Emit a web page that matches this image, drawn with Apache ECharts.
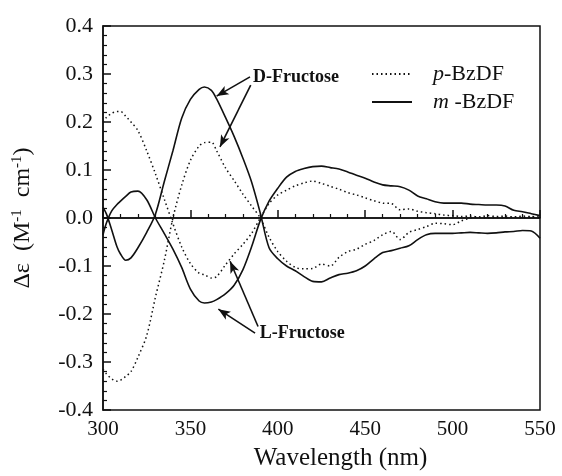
<!DOCTYPE html>
<html>
<head>
<meta charset="utf-8">
<script src="https://cdn.jsdelivr.net/npm/echarts@6/dist/echarts.min.js"></script>
<style>
  html, body { margin: 0; padding: 0; background: #fff; }
  #chart { width: 562px; height: 476px; }
</style>
</head>
<body>
<div id="chart"></div>
<script>
// Wavelength grid (nm) shared by all four CD spectra
const wavelengths = [300, 302, 305, 308, 310, 313, 316, 320, 325, 330, 335, 340, 345, 350, 355, 358, 362, 365, 370, 375,
  380, 385, 390, 395, 400, 405, 410, 415, 420, 425, 430, 435, 440, 445, 450, 455, 460, 465, 470, 475,
  480, 485, 490, 495, 500, 505, 510, 515, 520, 525, 530, 535, 540, 545, 550];

// m-BzDF with D-fructose (solid, positive band near 358 nm)
const mD = [0.022, 0.008, -0.025, -0.060, -0.075, -0.088, -0.083, -0.062, -0.030, 0.008, 0.075, 0.140, 0.208, 0.247, 0.268, 0.273, 0.266, 0.248, 0.210, 0.170,
  0.125, 0.075, 0.010, -0.062, -0.085, -0.100, -0.110, -0.122, -0.132, -0.133, -0.125, -0.118, -0.115, -0.110, -0.100, -0.085, -0.072, -0.068, -0.063, -0.058,
  -0.045, -0.035, -0.032, -0.032, -0.032, -0.031, -0.030, -0.031, -0.032, -0.031, -0.029, -0.028, -0.026, -0.027, -0.042];

// m-BzDF with L-fructose (solid, mirror image)
const mL = [-0.035, -0.010, 0.015, 0.028, 0.035, 0.045, 0.054, 0.056, 0.038, 0.000, -0.032, -0.065, -0.103, -0.148, -0.173, -0.177, -0.175, -0.170, -0.158, -0.140,
  -0.108, -0.060, -0.005, 0.035, 0.062, 0.085, 0.097, 0.103, 0.107, 0.108, 0.105, 0.102, 0.096, 0.089, 0.083, 0.075, 0.069, 0.067, 0.065, 0.058,
  0.046, 0.040, 0.034, 0.031, 0.031, 0.031, 0.029, 0.028, 0.027, 0.027, 0.025, 0.016, 0.013, 0.009, 0.005];

// p-BzDF with D-fructose (dotted)
const pD = [-0.315, -0.325, -0.335, -0.340, -0.338, -0.330, -0.320, -0.290, -0.245, -0.165, -0.090, 0.000, 0.068, 0.120, 0.150, 0.157, 0.158, 0.140, 0.105, 0.078,
  0.050, 0.025, 0.000, -0.040, -0.070, -0.090, -0.103, -0.106, -0.105, -0.096, -0.100, -0.082, -0.070, -0.065, -0.055, -0.047, -0.035, -0.028, -0.045, -0.030,
  -0.024, -0.018, -0.011, -0.012, -0.014, -0.006, 0.000, 0.002, 0.000, 0.001, 0.000, 0.002, 0.001, 0.002, 0.000];

// p-BzDF with L-fructose (dotted)
const pL = [0.200, 0.210, 0.218, 0.222, 0.222, 0.212, 0.200, 0.182, 0.140, 0.092, 0.040, -0.012, -0.060, -0.095, -0.115, -0.118, -0.125, -0.122, -0.098, -0.075,
  -0.055, -0.032, 0.000, 0.030, 0.048, 0.058, 0.067, 0.073, 0.077, 0.072, 0.066, 0.060, 0.053, 0.048, 0.042, 0.036, 0.031, 0.030, 0.017, 0.019,
  0.014, 0.011, 0.009, 0.006, 0.005, 0.003, 0.004, 0.002, 0.005, 0.003, 0.004, 0.002, 0.004, 0.003, 0.004];

// Axis ranges and tick steps
const xRange = [300, 550, 50];
const yRange = [-0.4, 0.4, 0.1];

// Labelled arrows (data coordinates): text anchor and arrow tail -> head
const dLabel = { text: 'D-Fructose', at: [385.8, 0.294],
  arrows: [[[384.1, 0.294], [365.0, 0.254]], [[384.5, 0.277], [366.9, 0.148]]] };
const lLabel = { text: 'L-Fructose', at: [389.6, -0.240],
  arrows: [[[388.7, -0.226], [372.7, -0.090]], [[387.0, -0.240], [366.0, -0.190]]] };

const serif = '"Liberation Serif", "Times New Roman", serif';
const ink = '#111';

const zip = (xs, ys) => xs.map((x, i) => [x, ys[i]]);

const solidStyle = { color: ink, width: 1.6, type: 'solid' };
const dottedStyle = { color: ink, width: 1.5, type: [1.5, 3] };

function arrowLines(lbl) {
  return lbl.arrows.map(a => [
    { coord: a[0], symbol: 'none' },
    { coord: a[1], symbol: 'arrow', symbolSize: [7, 12] }
  ]);
}

const chart = echarts.init(document.getElementById('chart'), null, { renderer: 'canvas' });

chart.setOption({
  animation: false,
  backgroundColor: '#fff',
  grid: { left: 103, right: 22, top: 26, bottom: 66, show: true, borderColor: ink, borderWidth: 1.5, backgroundColor: 'transparent' },
  legend: {
    orient: 'vertical',
    left: 366,
    top: 58,
    itemWidth: 40,
    itemHeight: 12,
    itemGap: 6,
    itemStyle: { opacity: 0 },
    data: ['p-BzDF', 'm-BzDF'],
    formatter: name => name === 'p-BzDF' ? '{i|p}-BzDF' : '{i|m} -BzDF',
    textStyle: {
      fontFamily: serif, fontSize: 22, color: ink, padding: [0, 0, 0, 16],
      rich: { i: { fontFamily: serif, fontSize: 22, fontStyle: 'italic', color: ink } }
    }
  },
  xAxis: {
    type: 'value',
    min: xRange[0], max: xRange[1], interval: xRange[2],
    name: 'Wavelength (nm)',
    nameLocation: 'middle',
    nameGap: 36,
    nameTextStyle: { fontFamily: serif, fontSize: 25, color: ink, padding: [0, 0, 0, 38] },
    axisLine: { lineStyle: { color: ink, width: 1.5 } },
    axisTick: { inside: true, length: 8, lineStyle: { color: ink, width: 1.5 } },
    minorTick: { show: true, splitNumber: 5, length: 4, lineStyle: { color: ink, width: 1.2 } },
    axisLabel: { fontFamily: serif, fontSize: 21, color: ink, margin: 9 },
    splitLine: { show: false }
  },
  yAxis: {
    type: 'value',
    min: yRange[0], max: yRange[1], interval: yRange[2],
    name: 'Δε  (M{sup|-1}  cm{sup|-1})',
    nameLocation: 'middle',
    nameGap: 68,
    nameTextStyle: {
      fontFamily: serif, fontSize: 24, color: ink,
      rich: { sup: { fontFamily: serif, fontSize: 15, color: ink, verticalAlign: 'top', padding: [0, 0, 10, 0] } }
    },
    axisLine: { lineStyle: { color: ink, width: 1.5 } },
    axisTick: { inside: true, length: 8, lineStyle: { color: ink, width: 1.5 } },
    minorTick: { show: true, splitNumber: 5, length: 4, lineStyle: { color: ink, width: 1.2 } },
    axisLabel: {
      fontFamily: serif, fontSize: 22, color: ink, margin: 10,
      formatter: v => (Math.abs(v) < 1e-9 ? 0 : v).toFixed(1)
    },
    splitLine: { show: false }
  },
  series: [
    {
      name: 'p-BzDF', type: 'line', data: zip(wavelengths, pD), showSymbol: false, symbol: 'none',
      smooth: 0.3, lineStyle: dottedStyle, itemStyle: { color: ink },
      markLine: {
        silent: true, symbol: 'none', label: { show: false },
        lineStyle: { color: ink, width: 1.6, type: 'solid' },
        data: [{ yAxis: 0 }]
      }
    },
    {
      name: 'p-BzDF', type: 'line', data: zip(wavelengths, pL), showSymbol: false, symbol: 'none',
      smooth: 0.3, lineStyle: dottedStyle, itemStyle: { color: ink }
    },
    {
      name: 'm-BzDF', type: 'line', data: zip(wavelengths, mD), showSymbol: false, symbol: 'none',
      smooth: 0.3, lineStyle: solidStyle, itemStyle: { color: ink },
      markLine: {
        silent: true, label: { show: false },
        lineStyle: { color: ink, width: 1.6, type: 'solid' },
        data: arrowLines(dLabel).concat(arrowLines(lLabel))
      },
      markPoint: {
        silent: true, symbol: 'circle', symbolSize: 0.1,
        label: {
          show: true, position: 'right', distance: 0,
          fontFamily: serif, fontSize: 18, fontWeight: 'bold', color: ink,
          formatter: p => p.name
        },
        data: [
          { name: dLabel.text, coord: dLabel.at },
          { name: lLabel.text, coord: lLabel.at }
        ]
      }
    },
    {
      name: 'm-BzDF', type: 'line', data: zip(wavelengths, mL), showSymbol: false, symbol: 'none',
      smooth: 0.3, lineStyle: solidStyle, itemStyle: { color: ink }
    }
  ]
});
</script>
</body>
</html>
